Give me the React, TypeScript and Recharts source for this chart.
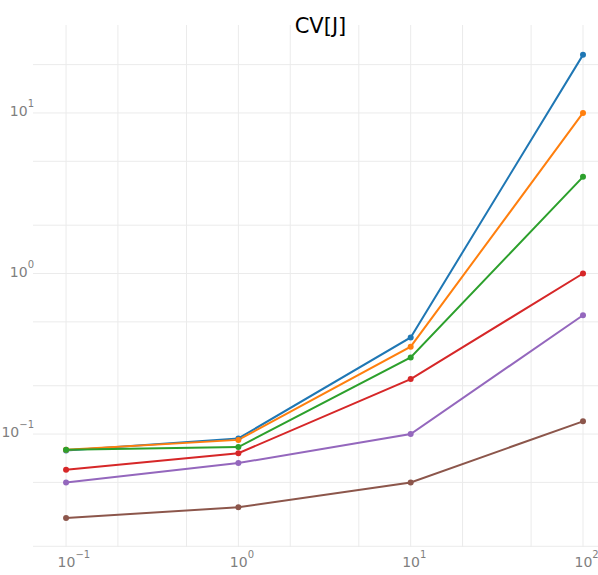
import { LineChart, Line, XAxis, YAxis, CartesianGrid } from "recharts";

const xValues = [0.1, 1, 10, 100];

const blueSeries = [0.079, 0.094, 0.4, 23];
const orangeSeries = [0.08, 0.092, 0.35, 10];
const greenSeries = [0.08, 0.083, 0.3, 4.0];
const redSeries = [0.06, 0.076, 0.22, 1.0];
const purpleSeries = [0.05, 0.066, 0.1, 0.55];
const brownSeries = [0.03, 0.035, 0.05, 0.12];

const seriesList = [
  { key: "s1", values: blueSeries, color: "#1f77b4" },
  { key: "s2", values: orangeSeries, color: "#ff7f0e" },
  { key: "s3", values: greenSeries, color: "#2ca02c" },
  { key: "s4", values: redSeries, color: "#d62728" },
  { key: "s5", values: purpleSeries, color: "#9467bd" },
  { key: "s6", values: brownSeries, color: "#8c564b" },
];

const xTicks = [0.1, 1, 10, 100];
const yTicks = [0.1, 1, 10];
const xGrid = [0.1, 0.2, 0.5, 1, 2, 5, 10, 20, 50, 100];
const yGrid = [0.02, 0.05, 0.1, 0.2, 0.5, 1, 2, 5, 10, 20];

const data = xValues.map((x, i) => {
  const row: Record<string, number> = { x };
  seriesList.forEach((s) => {
    row[s.key] = s.values[i];
  });
  return row;
});

const font = "'DejaVu Sans', sans-serif";
const tickColor = "#7f7f7f";

const exponent = (v: number) => String(Math.round(Math.log10(v))).replace("-", "\u2212");

const YTick = ({ y, payload }: any) => (
  <text x={34} y={y + 3} textAnchor="end" fill={tickColor} fontSize={14} fontFamily={font}>
    <tspan>10</tspan>
    <tspan dy={-9} fontSize={10}>{exponent(payload.value)}</tspan>
  </text>
);

const XTick = ({ x, payload }: any) => (
  <text x={x - 8.5} y={567} textAnchor="start" fill={tickColor} fontSize={14} fontFamily={font}>
    <tspan>10</tspan>
    <tspan dy={-9} fontSize={10}>{exponent(payload.value)}</tspan>
  </text>
);

export default function App() {
  return (
    <div style={{ position: "absolute", left: 0, top: 0, width: 598, height: 575 }}>
      <LineChart
        width={598}
        height={575}
        data={data}
        margin={{ top: 25, right: 0, bottom: 0, left: 0 }}
      >
        <CartesianGrid
          stroke="#ebebeb"
          horizontalValues={yGrid}
          verticalValues={xGrid}
        />
        <XAxis
          dataKey="x"
          type="number"
          scale="log"
          domain={[0.0643, 122.2]}
          allowDataOverflow
          ticks={xTicks}
          tick={<XTick />}
          axisLine={false}
          tickLine={false}
          height={28}
        />
        <YAxis
          type="number"
          scale="log"
          domain={[0.0198, 35.3]}
          allowDataOverflow
          ticks={yTicks}
          tick={<YTick />}
          axisLine={false}
          tickLine={false}
          width={33}
        />
        {seriesList.map((s) => (
          <Line
            key={s.key}
            dataKey={s.key}
            stroke={s.color}
            strokeWidth={2}
            dot={{ r: 3, fill: s.color, stroke: s.color, strokeWidth: 0 }}
            isAnimationActive={false}
          />
        ))}
      </LineChart>
      <div
        style={{
          position: "absolute",
          left: 0,
          top: 12,
          width: 641,
          textAlign: "center",
          fontFamily: font,
          fontSize: 21,
          color: "#000",
          lineHeight: "28px",
        }}
      >
        CV[J]
      </div>
    </div>
  );
}
